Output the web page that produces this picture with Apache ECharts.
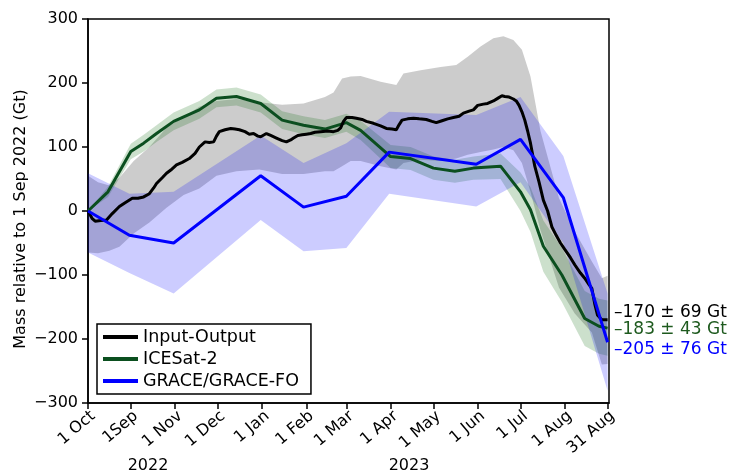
<!DOCTYPE html>
<html><head><meta charset="utf-8">
<script src="https://cdn.jsdelivr.net/npm/echarts@6/dist/echarts.min.js"></script>
<style>html,body{margin:0;padding:0;background:#fff}#c{width:732px;height:474px}</style>
</head><body><div id="c"></div>
<script>
// x axis: days since start of record
const tickDays = [0,30,61,91,122,153,181,212,242,273,303,334,364];
const tickLabels = ['1 Oct','1Sep','1 Nov','1 Dec','1 Jan','1 Feb','1 Mar','1 Apr','1 May','1 Jun','1 Jul','1 Aug','31 Aug'];
const yearLabels = ['2022','2023'];

// Input-Output (black line + grey band)
const ioDays = [0,3,5,9,13,17,22,26,31,35,39,43,46,48,52,55,58,62,66,71,75,78,82,85,88,90,92,96,100,103,106,110,113,116,119,121,125,128,132,136,139,142,144,147,150,153,156,159,163,168,172,175,177,179,181,185,188,192,195,200,205,209,213,216,218,220,224,228,232,237,241,244,248,252,256,260,263,267,270,273,277,280,284,287,290,292,295,298,300,302,304,306,308,310,313,316,319,322,325,328,331,334,338,341,345,348,351,353,355,357,360,364];
const ioVals = [0,-12,-16,-15,-14,-4,7,13,20,20,22,27,36,43,52,59,64,72,76,82,90,100,108,107,108,117,124,127,129,128,127,124,120,121,117,116,121,118,114,110,108,111,114,118,119,120,121,123,124,125,124,126,130,140,146,146,145,143,140,137,133,129,128,127,135,142,144,145,144,143,140,138,141,144,146,148,153,156,158,165,167,168,172,176,180,179,178,175,172,165,155,142,125,106,70,45,17,0,-25,-38,-50,-60,-73,-84,-97,-105,-115,-121,-145,-163,-170,-170];
const ioBandDays = [0,7,15,22,32,43,55,67,78,90,104,120,136,151,166,172,178,184,191,205,216,221,233,247,258,266,275,284,291,298,304,310,317,330,341,353,360,364];
const ioUpper = [55,45,40,52,78,100,130,147,163,172,175,170,166,168,178,185,207,210,211,202,197,215,220,225,228,241,257,270,273,267,252,210,125,20,-32,-79,-105,-101];
const ioLower = [-65,-66,-62,-56,-35,-18,5,25,35,55,62,65,58,58,62,62,70,78,78,70,65,75,80,78,82,88,92,96,100,95,75,30,-30,-120,-160,-190,-240,-239];

// ICESat-2 (green)
const icDays = [0,14,30,39,48,60,78,90,104,121,136,151,166,181,191,212,226,242,257,270,289,303,310,319,332,348,358,364];
const icVals = [0,30,93,106,121,140,158,176,179,168,142,134,128,138,126,85,82,67,62,67,70,30,2,-55,-100,-168,-180,-183];
const icErr = [0,8,12,13,13,14,14,14,14,14,14,14,14,14,15,18,18,18,18,18,20,30,35,40,42,43,43,43];

// GRACE/GRACE-FO (blue)
const grDays = [0,29,60,121,151,181,211,272,303,333,364];
const grVals = [0,-38,-50,55,6,23,92,73,112,21,-205];
const grUpper = [59,27,30,118,75,106,155,150,178,86,-129];
const grLower = [-65,-97,-129,-14,-63,-58,27,7,45,-50,-281];

const seriesNames = ['Input-Output','ICESat-2','GRACE/GRACE-FO'];
const endTexts = ['\u2013170 \u00b1 69 Gt','\u2013183 \u00b1 43 Gt','\u2013205 \u00b1 76 Gt'];
const yName = 'Mass relative to 1 Sep 2022 (Gt)';

const cBlack = '#000000', cGreen = '#0b4f1f', cBlue = '#0000ff';
const FONT = 'DejaVu Sans';

function band(id, days, lo, hi, fill) {
  return {
    type:'custom', name:id, silent:true, z:1, clip:true,
    data: days.map((d,i)=>[d, lo[i], hi[i]]),
    encode:{x:0, y:[1,2]},
    renderItem:(params, api)=>{
      if (params.dataIndex !== 0) return null;
      const pts = [];
      for (let i=0;i<days.length;i++) pts.push(api.coord([days[i], hi[i]]));
      for (let i=days.length-1;i>=0;i--) pts.push(api.coord([days[i], lo[i]]));
      return {type:'polygon', shape:{points:pts}, style:{fill:fill, stroke:null}};
    }
  };
}

const icUpper = icVals.map((v,i)=>v+icErr[i]);
const icLower = icVals.map((v,i)=>v-icErr[i]);

const series = [
  band('io', ioBandDays, ioLower, ioUpper, 'rgba(0,0,0,0.2)'),
  band('ic', icDays, icLower, icUpper, 'rgba(0,100,0,0.2)'),
  band('gr', grDays, grLower, grUpper, 'rgba(0,0,255,0.2)'),
  { type:'line', name:seriesNames[1], color:cGreen, symbol:'none', lineStyle:{width:3, color:cGreen},
    data: icDays.map((d,i)=>[d, icVals[i]]), z:3 },
  { type:'line', name:seriesNames[0], color:cBlack, symbol:'none', lineStyle:{width:3, color:cBlack},
    data: ioDays.map((d,i)=>[d, ioVals[i]]), z:4 },
  { type:'line', name:seriesNames[2], color:cBlue, symbol:'none', lineStyle:{width:3, color:cBlue},
    data: grDays.map((d,i)=>[d, grVals[i]]), z:5 }
];

const chart = echarts.init(document.getElementById('c'), null, {renderer:'canvas'});
chart.setOption({
  animation:false,
  backgroundColor:'#fff',
  grid:{left:88, top:19, right:123, bottom:71, show:true, borderColor:'#000', borderWidth:1.5, backgroundColor:'transparent'},
  xAxis:{
    type:'value', min:0, max:365,
    axisLine:{show:true, onZero:false, lineStyle:{color:'#000', width:1.5}},
    axisTick:{show:true, inside:false, length:6, customValues:tickDays, lineStyle:{color:'#000', width:1.5}},
    axisLabel:{show:true, customValues:tickDays, rotate:40, verticalAlign:'top', margin:5, hideOverlap:false,
      color:'#000', fontSize:16, fontFamily:FONT,
      formatter:(v)=>{ const k = tickDays.indexOf(Math.round(v)); return k>=0 ? tickLabels[k] : ''; }},
    splitLine:{show:false}
  },
  yAxis:{
    type:'value', min:-300, max:300, interval:100,
    axisLine:{show:true, onZero:false, lineStyle:{color:'#000', width:1.5}},
    axisTick:{show:true, inside:false, length:6, lineStyle:{color:'#000', width:1.5}},
    axisLabel:{color:'#000', fontSize:16, fontFamily:FONT, margin:10,
      formatter:(v)=>String(v).replace('-', '\u2212')},
    splitLine:{show:false}
  },
  legend:{
    data:seriesNames, orient:'vertical', left:97, top:324,
    icon:'rect', itemWidth:35, itemHeight:4, itemGap:2,
    padding:[3,12,3,6], borderColor:'#000', borderWidth:1.5, backgroundColor:'#fff',
    textStyle:{color:'#000', fontSize:17.5, fontFamily:FONT, lineHeight:20},
    selectedMode:false
  },
  graphic:[
    {type:'text', x:21, y:219, rotation:Math.PI/2, style:{text:yName, fill:'#000', font:'16px "DejaVu Sans"', align:'center', verticalAlign:'middle'}},
    {type:'text', x:148, y:466, style:{text:yearLabels[0], fill:'#000', font:'16px "DejaVu Sans"', align:'center', verticalAlign:'middle'}},
    {type:'text', x:409, y:466, style:{text:yearLabels[1], fill:'#000', font:'16px "DejaVu Sans"', align:'center', verticalAlign:'middle'}},
    {type:'text', x:614, y:313, style:{text:endTexts[0], fill:cBlack, font:'17px "DejaVu Sans"', align:'left', verticalAlign:'middle'}},
    {type:'text', x:614, y:330, style:{text:endTexts[1], fill:'#1e5a1e', font:'17px "DejaVu Sans"', align:'left', verticalAlign:'middle'}},
    {type:'text', x:614, y:350, style:{text:endTexts[2], fill:cBlue, font:'17px "DejaVu Sans"', align:'left', verticalAlign:'middle'}}
  ],
  series:series
});
</script></body></html>
